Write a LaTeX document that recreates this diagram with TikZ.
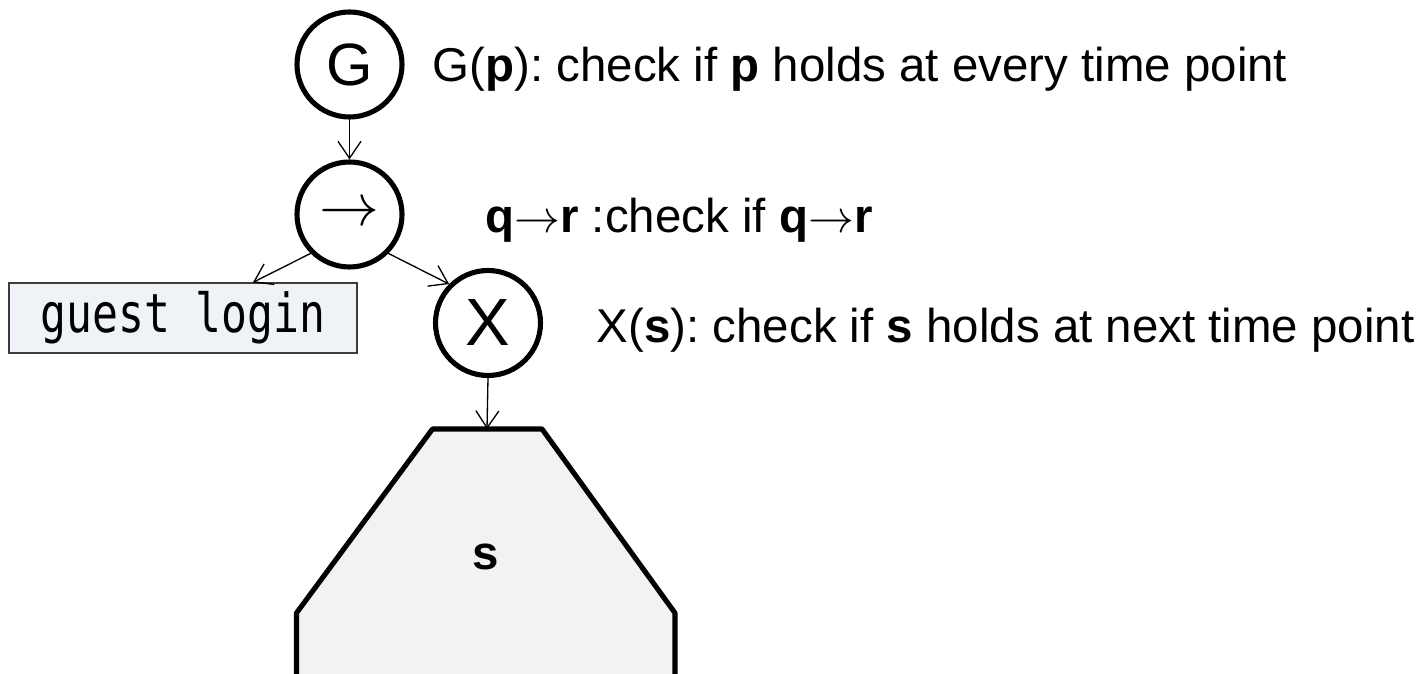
\documentclass[tikz,border=0pt]{standalone}
\usepackage{fontspec}
\setmainfont{Liberation Sans}
\setmonofont{DejaVu Sans Mono}
\usepackage{tikz}
\usetikzlibrary{arrows.meta}
\usepackage{xcolor}
\definecolor{boxfill}{RGB}{239,242,246}
\definecolor{boxline}{RGB}{60,60,60}
\definecolor{treefill}{RGB}{242,242,242}
\frenchspacing
\newcommand{\ltlto}[1]{{\fontsize{24.88}{30}\selectfont\scalebox{#1}{$\rightarrow$}}}

\begin{document}
\begin{tikzpicture}[>={Straight Barb[length=3.4mm,width=4.6mm]},line cap=round,
  opnode/.style={circle,draw,line width=2.9pt,minimum size=2.1cm,inner sep=0pt},
  guestbox/.style={draw=boxline,fill=boxfill,line width=0.7pt,minimum width=6.96cm,minimum height=1.4cm,inner sep=0pt,font=\ttfamily\fontsize{24.5}{30}\selectfont},
  desc/.style={anchor=base west,inner sep=0pt,font=\fontsize{27}{32}\selectfont},
  edge/.style={->,line width=0.75pt}]
\useasboundingbox (0,0) rectangle (28.54,13.48);
% operator tree
\node[opnode,font=\fontsize{34}{40}\selectfont] (G) at (6.99,12.19) {G};
\node[opnode] (imp) at (6.99,9.19) {\ltlto{1.37}};
\node[opnode,font=\fontsize{38}{44}\selectfont] (X) at (9.76,7.02) {X};
\node[guestbox] (guest) at (3.66,7.12) {\scalebox{1}[1.25]{guest login}};
% subformula s
\filldraw[fill=treefill,line width=2.9pt,line join=round] (5.93,-0.3) -- (5.93,1.22) -- (8.65,4.90) -- (10.84,4.90) -- (13.50,1.22) -- (13.50,-0.3);
\coordinate (sTop) at (9.74,4.90);
\node[font=\bfseries\fontsize{27}{32}\selectfont] (s) at (9.72,2.34) {s};
% edges
\draw[edge] (G.south) -- (imp.north);
\draw[edge] (imp.south west) -- ([xshift=1.4cm]guest.north);
\draw[edge] (imp.south east) -- (X.north west);
\draw[edge] (X.south) -- (sTop);
% descriptions
\node[desc] (Gtxt) at (8.65,11.84) {G(\textbf{p}): check if \textbf{p} holds at every time point};
\node[desc] (imptxt) at (9.70,8.82) {\textbf{q}\ltlto{1.05}\textbf{r} :check if \textbf{q}\ltlto{1.05}\textbf{r}};
\node[desc] (Xtxt) at (11.93,6.62) {X(\textbf{s}): check if \textbf{s} holds at next time point};
\end{tikzpicture}
\end{document}
